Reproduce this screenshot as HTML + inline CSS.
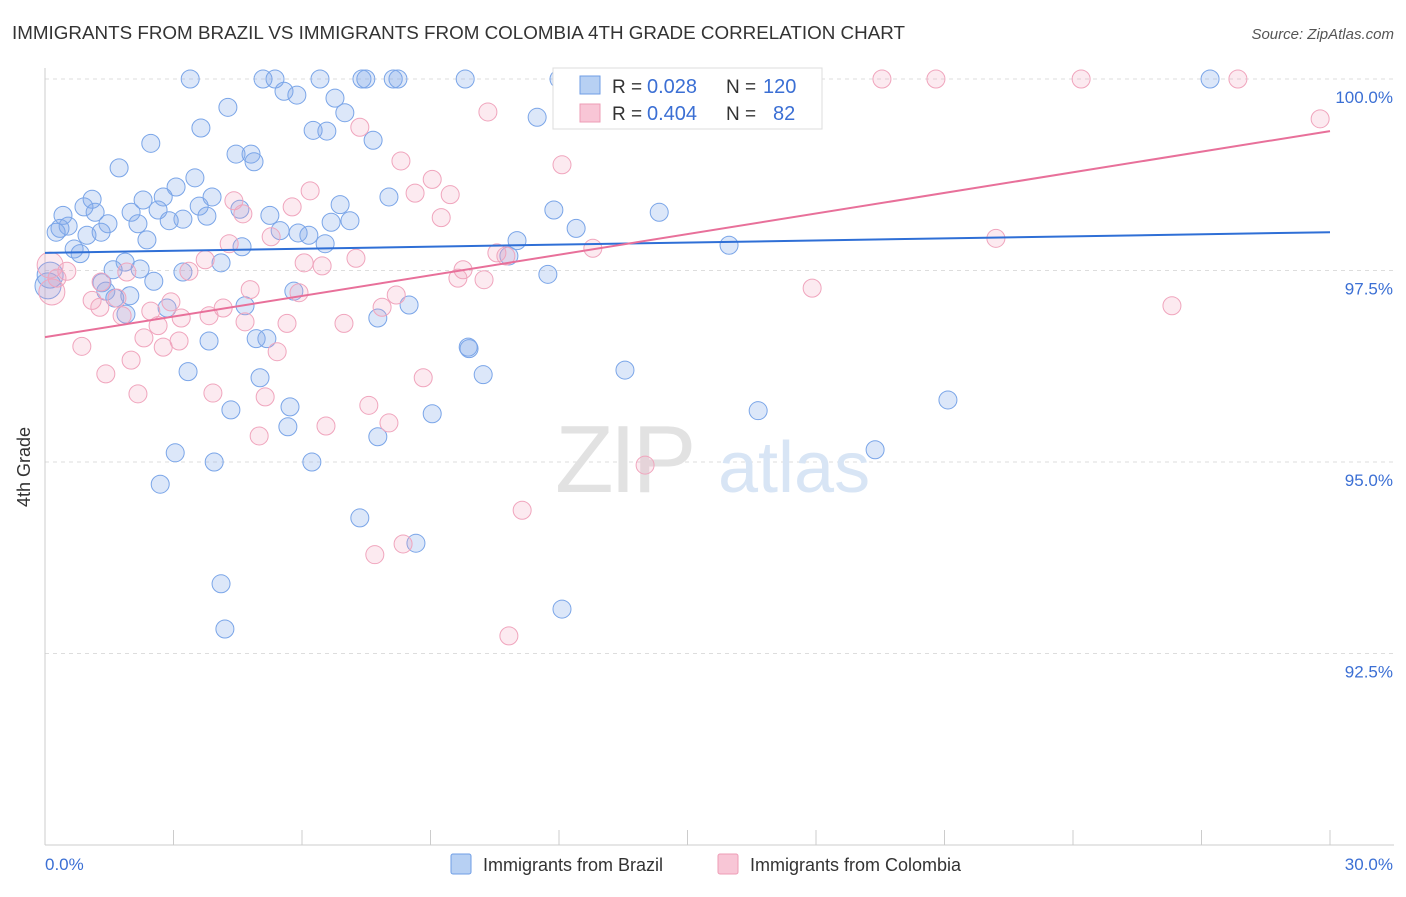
<!DOCTYPE html>
<html><head><meta charset="utf-8"><style>
body{margin:0;background:#fff;font-family:"Liberation Sans",sans-serif;}
svg text{font-family:"Liberation Sans",sans-serif;}
</style></head><body>
<svg id="chart" width="1406" height="892" xmlns="http://www.w3.org/2000/svg">
<text x="12" y="39" font-size="18" fill="#333" textLength="893" lengthAdjust="spacingAndGlyphs">IMMIGRANTS FROM BRAZIL VS IMMIGRANTS FROM COLOMBIA 4TH GRADE CORRELATION CHART</text>
<text x="1394" y="39" font-size="15" fill="#555" font-style="italic" text-anchor="end">Source: ZipAtlas.com</text>
<g id="grid"></g>
<g><text x="555" y="492" font-size="96" fill="#e2e2e2" font-family="Liberation Serif" letter-spacing="-4">ZIP</text><text x="718" y="492" font-size="72" fill="#d8e5f5">atlas</text></g>
<g id="axes"></g>
<g id="pts"></g>
<g id="trends"></g>
<text x="18" y="455" font-size="18" fill="#333" transform="rotate(-90 30 455)" text-anchor="middle">4th Grade</text>
<g>
<rect x="553" y="68" width="269" height="61" fill="#fff" stroke="#ddd"/>
<rect x="580" y="76" width="20" height="18" fill="#b7d0f3" stroke="#6f9ee6"/>
<rect x="580" y="104" width="20" height="18" fill="#f8c6d6" stroke="#ee9cb6"/>
<text y="93" font-size="19" fill="#333"><tspan x="612">R =</tspan><tspan x="647" fill="#3b6fd4" font-size="20">0.028</tspan><tspan x="726">N =</tspan><tspan x="763" fill="#3b6fd4" font-size="20">120</tspan></text>
<text y="120" font-size="19" fill="#333"><tspan x="612">R =</tspan><tspan x="647" fill="#3b6fd4" font-size="20">0.404</tspan><tspan x="726">N =</tspan><tspan x="773" fill="#3b6fd4" font-size="20">82</tspan></text>
</g>
<g>
<rect x="451" y="854" width="20" height="20" fill="#b7d0f3" stroke="#6f9ee6" rx="2"/>
<text x="483" y="871" font-size="18" fill="#333">Immigrants from Brazil</text>
<rect x="718" y="854" width="20" height="20" fill="#f8c6d6" stroke="#ee9cb6" rx="2"/>
<text x="750" y="871" font-size="18" fill="#333">Immigrants from Colombia</text>
</g>
</svg>
<script>
const xTickLabels=["0.0%","30.0%"];
const yTicks=[100,97.5,95,92.5];
const yTickLabels=["100.0%","97.5%","95.0%","92.5%"];
const brazilX=[3.39,5.09,5.37,6.42,7.40,7.49,8.13,8.24,9.81,12.00,27.20,4.27,5.58,5.88,6.77,7.00,3.64,6.26,6.58,7.66,2.47,4.46,4.81,4.88,1.73,3.50,3.06,3.90,2.76,2.29,1.10,0.91,1.17,0.42,2.01,2.64,3.60,4.55,5.25,6.89,8.03,3.22,3.78,2.90,1.47,2.17,6.68,7.12,5.49,5.91,6.16,0.35,0.54,0.26,0.98,1.31,0.68,0.82,2.38,6.54,4.60,11.02,15.97,12.40,11.88,14.34,11.49,10.83,11.74,1.87,1.59,2.22,3.22,2.54,4.11,1.33,1.42,1.63,1.98,4.67,2.85,1.89,5.81,8.50,7.77,3.83,4.93,5.18,9.88,9.90,3.34,5.02,10.23,13.54,5.72,4.34,9.04,5.67,7.77,3.04,3.95,6.23,19.38,21.08,16.65,2.69,7.35,8.66,4.11,4.20,12.07,0.07,0.12];
const brazilY=[100,100,100,100,100,100,100,100,100,100,100,99.63,99.84,99.79,99.75,99.56,99.36,99.33,99.32,99.20,99.16,99.02,99.02,98.92,98.84,98.71,98.59,98.46,98.46,98.42,98.43,98.33,98.26,98.22,98.26,98.29,98.34,98.30,98.22,98.36,98.46,98.17,98.21,98.15,98.11,98.11,98.13,98.15,98.02,97.99,97.96,98.05,98.08,98.00,97.96,98.00,97.78,97.72,97.90,97.85,97.81,97.89,97.83,98.05,98.29,98.26,99.50,97.69,97.45,97.61,97.51,97.52,97.48,97.36,97.60,97.34,97.23,97.14,97.17,97.04,97.01,96.93,97.23,97.05,96.88,96.58,96.61,96.61,96.50,96.48,96.18,96.10,96.14,96.20,95.72,95.68,95.63,95.46,95.33,95.12,95.00,95.00,95.16,95.81,95.67,94.71,94.27,93.94,93.41,92.82,93.08,97.30,97.44];
const colombiaX=[13.21,16.18,19.54,20.80,24.19,27.85,29.77,10.34,7.35,12.07,8.31,9.04,8.64,9.46,6.19,4.41,5.77,9.25,4.62,4.30,5.28,22.20,12.79,10.55,10.76,7.26,6.05,6.47,3.74,3.36,9.76,10.25,9.64,1.91,1.31,0.51,0.28,26.31,17.91,4.79,5.93,8.20,7.87,2.94,1.10,1.68,1.28,1.80,2.47,3.18,4.16,3.83,2.64,4.67,5.65,6.98,2.31,3.13,2.76,0.86,5.42,2.01,1.42,8.83,2.17,3.92,5.14,7.56,6.56,8.03,5.00,14.01,11.14,7.70,8.36,10.83,0.12,0.16];
const colombiaY=[100,100,100,100,100,100,99.48,99.57,99.37,98.88,98.93,98.69,98.51,98.49,98.54,98.41,98.33,98.19,98.24,97.85,97.94,97.92,97.79,97.73,97.69,97.66,97.60,97.56,97.64,97.49,97.51,97.38,97.40,97.48,97.35,97.49,97.40,97.04,97.27,97.25,97.21,97.18,97.02,97.09,97.11,97.14,97.02,96.91,96.97,96.88,97.01,96.91,96.78,96.83,96.81,96.81,96.62,96.58,96.50,96.51,96.44,96.33,96.15,96.10,95.89,95.90,95.85,95.74,95.47,95.51,95.34,94.96,94.37,93.79,93.93,92.73,97.57,97.22];
const brazilTrend=[97.73,98.0];
const colombiaTrend=[96.63,99.32];
const NS="http://www.w3.org/2000/svg";
const X=v=>45+v/30*1285;
const Y=v=>79+(100-v)*76.6;
function mk(tag,attrs,parent){const e=document.createElementNS(NS,tag);for(const k in attrs)e.setAttribute(k,attrs[k]);parent.appendChild(e);return e;}
const grid=document.getElementById('grid'),axes=document.getElementById('axes'),pts=document.getElementById('pts'),tr=document.getElementById('trends');
yTicks.forEach((t,i)=>{
 const l=mk('line',{x1:45,x2:1394,y1:Y(t),y2:Y(t),stroke:'#ddd','stroke-dasharray':'4,4'},grid);
 
 
 const tx=mk('text',{x:1393,y:Y(t)+24,'font-size':17,fill:'#3b6fd4','text-anchor':'end'},axes);
 tx.textContent=yTickLabels[i];
 
 
});
const ax=mk('line',{x1:45,x2:1394,y1:845,y2:845,stroke:'#ccc'},axes);


const ay=mk('line',{x1:45,x2:45,y1:68,y2:845,stroke:'#ccc'},axes);


for(let i=0;i<=10;i++){
 const t=mk('line',{x1:X(i*3),x2:X(i*3),y1:830,y2:845,stroke:'#ccc'},axes);
 
 
}
[[0,'start',xTickLabels[0]],[30,'end',xTickLabels[1]]].forEach(([v,a,s])=>{
 const t=mk('text',{x:v==0?45:1393,y:870,'font-size':17,fill:'#3b6fd4','text-anchor':a},axes);
 t.textContent=s;
 
 
});
function series(xs,ys,fill,stroke,name){
 xs.forEach((x,i)=>{
  const big=(x<0.2);
  const c=mk('circle',{cx:X(x),cy:Y(ys[i]),r:big?13:9,fill:fill,stroke:stroke,'stroke-width':1},pts);
  
  
 });
}
series(brazilX,brazilY,'rgba(130,170,235,0.28)','#7aa5e8','brazil-point');
series(colombiaX,colombiaY,'rgba(242,160,188,0.22)','#f0a5bd','colombia-point');
const t1=mk('line',{x1:X(0),x2:X(30),y1:Y(brazilTrend[0]),y2:Y(brazilTrend[1]),stroke:'#2f6fd6','stroke-width':2},tr);


const t2=mk('line',{x1:X(0),x2:X(30),y1:Y(colombiaTrend[0]),y2:Y(colombiaTrend[1]),stroke:'#e8709a','stroke-width':2},tr);


</script>
</body></html>
